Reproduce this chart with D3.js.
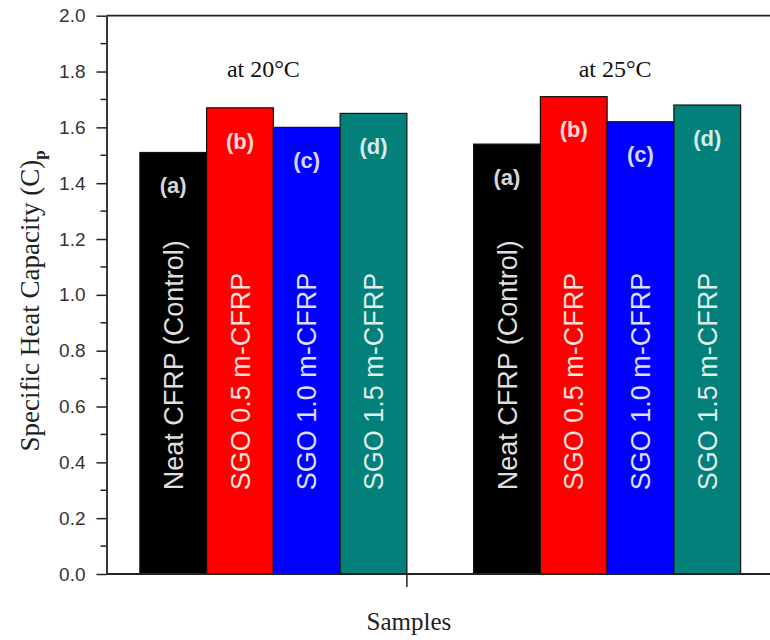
<!DOCTYPE html>
<html>
<head>
<meta charset="utf-8">
<script src="https://cdn.jsdelivr.net/npm/d3@7"></script>
<style>
  html, body { margin: 0; padding: 0; background: #fff; }
  svg { display: block; }
</style>
</head>
<body>
<svg id="chart" width="770" height="640"></svg>
<script>
// Specific heat capacity of CFRP samples at two temperatures
const temperatures = ["20", "25"];
const samples = ["Neat CFRP (Control)", "SGO 0.5 m-CFRP", "SGO 1.0 m-CFRP", "SGO 1.5 m-CFRP"];
const sampleTags = ["(a)", "(b)", "(c)", "(d)"];
const sampleColors = ["#000000", "#ff0000", "#0000ff", "#04807b"];
const valuesAt20 = [1.51, 1.67, 1.60, 1.65];
const valuesAt25 = [1.54, 1.71, 1.62, 1.68];
const yTicks = [0.0, 0.2, 0.4, 0.6, 0.8, 1.0, 1.2, 1.4, 1.6, 1.8, 2.0];

const seriesValues = [valuesAt20, valuesAt25];

const svg = d3.select("#chart");
const plotLeft = 106.5, plotRight = 774, plotTop = 15.7, plotBottom = 574;

const y = d3.scaleLinear().domain([0, 2.0]).range([plotBottom, plotTop]);
const xGroup = d3.scaleBand().domain(temperatures).range([plotLeft, plotRight])
  .paddingInner(0.2).paddingOuter(0.1);
const xSample = d3.scaleBand().domain(samples).range([0, xGroup.bandwidth()]).padding(0);

// bars
const groups = svg.selectAll("g.group")
  .data(temperatures.map((t, gi) => ({ t, vals: seriesValues[gi] })))
  .join("g")
  .attr("class", "group")
  .attr("transform", d => `translate(${xGroup(d.t)},0)`);

const bars = groups.selectAll("g.bar")
  .data(d => d.vals.map((v, i) => ({ v, i, name: samples[i] })))
  .join("g")
  .attr("class", "bar");

bars.append("rect")
  .attr("x", d => xSample(d.name))
  .attr("y", d => y(d.v))
  .attr("width", xSample.bandwidth())
  .attr("height", d => y(0) - y(d.v))
  .attr("fill", d => sampleColors[d.i])
  .attr("stroke", "#111")
  .attr("stroke-width", 1.2);

// tag near each bar top
bars.append("text")
  .attr("x", d => xSample(d.name) + xSample.bandwidth() / 2)
  .attr("y", d => y(d.v) + 33)
  .attr("dy", "0.35em")
  .attr("text-anchor", "middle")
  .attr("font-family", "Liberation Sans, Arial, sans-serif")
  .attr("font-weight", "bold")
  .attr("font-size", 22)
  .attr("fill", "#fff")
  .attr("fill-opacity", 0.85)
  .text(d => sampleTags[d.i]);

// vertical sample name inside each bar
bars.append("text")
  .attr("transform", d => `translate(${xSample(d.name) + xSample.bandwidth() / 2},${y(0.3)}) rotate(-90)`)
  .attr("dy", "0.36em")
  .attr("text-anchor", "start")
  .attr("font-family", "Liberation Sans, Arial, sans-serif")
  .attr("font-size", 27)
  .attr("fill", "#fff")
  .attr("fill-opacity", 0.88)
  .text(d => d.name);

// temperature captions
svg.selectAll("text.temp")
  .data(temperatures)
  .join("text")
  .attr("class", "temp")
  .attr("x", d => xGroup(d) + xGroup.bandwidth() / 2 + (d === "20" ? -10 : 8))
  .attr("y", y(1.78))
  .attr("text-anchor", "middle")
  .attr("font-family", "Liberation Serif, Times New Roman, serif")
  .attr("font-size", 24)
  .attr("fill", "#111")
  .text(d => `at ${d}°C`);

// axes frame
const frame = svg.append("g").attr("stroke", "#222").attr("stroke-width", 1.8).attr("fill", "none");
frame.append("line").attr("x1", plotLeft).attr("x2", plotRight).attr("y1", plotTop).attr("y2", plotTop);
frame.append("line").attr("x1", plotLeft).attr("x2", plotRight).attr("y1", plotBottom).attr("y2", plotBottom);
frame.append("line").attr("x1", plotRight).attr("x2", plotRight).attr("y1", plotTop).attr("y2", plotBottom);

// left axis
const yAxis = d3.axisLeft(y).tickValues(yTicks).tickFormat(d3.format(".1f"))
  .tickSizeInner(10).tickSizeOuter(0).tickPadding(11);
const ya = svg.append("g").attr("transform", `translate(${plotLeft},0)`).call(yAxis);
ya.select(".domain").attr("stroke", "#222").attr("stroke-width", 1.8);
ya.selectAll(".tick line").attr("stroke", "#222").attr("stroke-width", 1.5);
ya.selectAll(".tick text")
  .attr("font-family", "Liberation Sans, Arial, sans-serif")
  .attr("font-size", 19)
  .attr("fill", "#333");

// minor ticks
const minor = d3.range(0.1, 2.0, 0.2);
svg.append("g").selectAll("line")
  .data(minor)
  .join("line")
  .attr("x1", plotLeft - 6).attr("x2", plotLeft)
  .attr("y1", d => y(d)).attr("y2", d => y(d))
  .attr("stroke", "#222").attr("stroke-width", 1.5);

// bottom tick at end of first group
const tickX = xGroup(temperatures[0]) + xGroup.bandwidth();
svg.append("line")
  .attr("x1", tickX).attr("x2", tickX)
  .attr("y1", plotBottom).attr("y2", plotBottom + 13)
  .attr("stroke", "#222").attr("stroke-width", 1.5);

// axis titles
svg.append("text")
  .attr("x", tickX + 2)
  .attr("y", 630)
  .attr("text-anchor", "middle")
  .attr("font-family", "Liberation Serif, Times New Roman, serif")
  .attr("font-size", 25)
  .attr("fill", "#222")
  .text("Samples");

const yTitle = svg.append("text")
  .attr("transform", `translate(39,${(plotTop + plotBottom) / 2 + 6}) rotate(-90)`)
  .attr("text-anchor", "middle")
  .attr("font-family", "Liberation Serif, Times New Roman, serif")
  .attr("font-size", 27)
  .attr("fill", "#222");
yTitle.append("tspan").text("Specific Heat Capacity (C)");
yTitle.append("tspan").attr("dy", "0.35em").attr("font-size", 17).attr("font-weight", "bold").text("p");
</script>
</body>
</html>
